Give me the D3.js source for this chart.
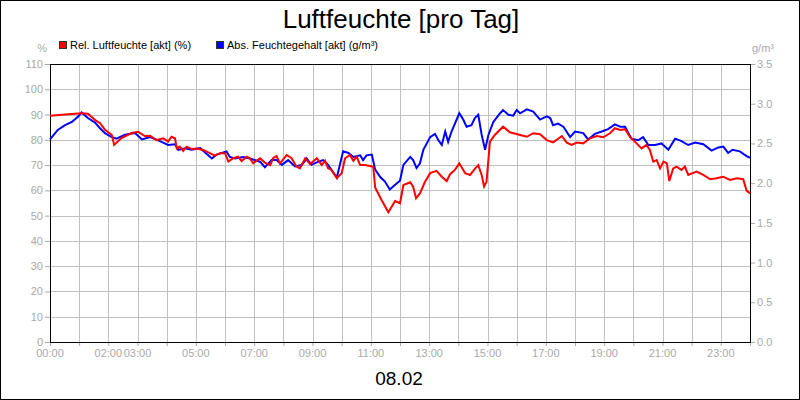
<!DOCTYPE html>
<html>
<head>
<meta charset="utf-8">
<script src="https://cdn.jsdelivr.net/npm/d3@7"></script>
<style>
  body { margin: 0; background: #fff; }
  svg { display: block; font-family: "Liberation Sans", Arial, sans-serif; }
</style>
</head>
<body>
<svg id="chart" width="800" height="400"></svg>
<script>
// minutes since midnight, rel. humidity in %
let relTimes = [0,31,65,78,93,103,113,127,132,147,168,181,195,
  206,219,233,243,250,257,261,267,274,281,291,302,315,329,339,350,360,367,377,387,394,405,411,418,432,
  442,453,459,466,473,487,497,507,514,525,535,549,559,566,572,579,590,600,607,617,624,631,638,648,658,665,
  669,682,696,710,720,727,741,747,753,761,771,782,795,806,816,823,833,842,854,864,874,881,888,893,898,
  905,915,932,946,967,981,994,1008,1022,1035,1053,1063,1073,1084,1097,1111,1125,1138,1152,1162,1173,
  1183,1193,1203,1217,1227,1234,1241,1248,1255,1262,1269,1274,1282,1289,1299,1306,1313,1330,1344,1358,
  1371,1385,1399,1413,1426,1433,1440];
let relValues = [89.5,90,90.5,90.3,87.8,86.6,84,82,78,80.7,82.7,83.2,81.5,
  81.6,79.9,80.6,79.3,81.2,80.6,76.6,77.3,75.6,77.3,76.4,76.6,76,74.7,73.7,74.7,74.7,71.4,72.7,73.3,71.6,73.3,72.7,70.7,72.7,
  71,70,72.7,73.6,70.7,74,72.7,69.4,68.7,72.7,70.4,72.7,70,71.7,68.7,68.1,64.8,66.8,72.7,74,71.7,73.3,70,70,69.6,69.3,
  61,56.2,51.3,55.8,54.9,62.1,63.2,61.5,56.9,58.8,63.2,66.8,67.7,65.4,63.7,66.4,68.1,70.7,66.8,66.1,68.5,70,66.1,61.5,63.4,
  79.3,81.9,85.2,83,81.9,81.2,82.6,82.2,79.9,79,81.5,78.9,78,78.9,78.6,80.6,81.5,81,82.6,84.6,83.9,
  84.2,81.2,79.3,76.6,78,76,71.4,72,68.7,71.4,70.7,63.7,68.7,69.4,68.1,69.4,66.1,67.4,66.1,64.4,
  64.8,65.4,64.1,64.8,64.4,59.9,58.8];

// minutes since midnight, abs. humidity in g/m³
let absTimes = [0,16,31,45,58,65,78,93,103,113,127,137,154,175,189,
  206,226,243,257,264,278,291,309,333,343,363,370,381,398,411,432,442,456,466,477,490,504,518,528,538,552,
  562,572,590,603,614,624,638,644,651,662,669,679,689,699,710,720,727,741,
  747,754,761,768,782,792,799,806,813,819,826,833,842,850,857,867,874,881,888,895,902,912,926,932,943,953,
  960,967,981,994,1008,1022,1029,1035,1045,1056,1070,1080,1097,1107,1121,1135,1148,1162,1173,1183,1196,
  1210,1220,1231,1245,1258,1272,1286,1299,1313,1327,1344,1361,1375,1385,1395,1404,1419,1433,1440];
let absValues = [2.55,2.67,2.73,2.77,2.84,2.89,2.82,2.76,2.69,2.63,2.58,2.56,2.61,2.63,2.55,
  2.58,2.53,2.48,2.49,2.42,2.44,2.42,2.44,2.31,2.36,2.40,2.33,2.31,2.33,2.31,2.27,2.20,2.29,2.29,2.23,2.29,2.21,2.23,2.31,2.23,2.27,
  2.29,2.23,2.07,2.40,2.38,2.33,2.35,2.29,2.35,2.36,2.17,2.08,2.02,1.92,1.98,2.03,2.23,2.33,
  2.29,2.19,2.25,2.42,2.58,2.62,2.54,2.48,2.65,2.52,2.65,2.75,2.88,2.80,2.71,2.73,2.82,2.86,2.61,2.42,2.61,2.77,2.88,2.92,2.86,2.85,
  2.92,2.88,2.93,2.90,2.80,2.84,2.82,2.73,2.75,2.71,2.58,2.65,2.63,2.55,2.62,2.65,2.68,2.74,2.71,2.71,2.56,
  2.54,2.58,2.48,2.48,2.50,2.42,2.56,2.53,2.48,2.51,2.49,2.41,2.45,2.46,2.38,2.42,2.40,2.34,2.32];

let leftTicks = [0,10,20,30,40,50,60,70,80,90,100,110];
let rightTicks = [0,0.5,1,1.5,2,2.5,3,3.5];
let hourTicks = d3.range(0, 25);
let hourLabels = ["00:00","02:00","03:00","05:00","07:00","09:00","11:00","13:00","15:00","17:00","19:00","21:00","23:00"];

let margin = {top: 64, right: 50, bottom: 58, left: 50};
let width = 800, height = 400;
let innerW = width - margin.left - margin.right;
let innerH = height - margin.top - margin.bottom;

let svg = d3.select("#chart");
let gray = "#a8a8a8";

svg.append("rect")
   .attr("x", 0.5).attr("y", 0.5)
   .attr("width", width - 1).attr("height", height - 1)
   .attr("fill", "#fff").attr("stroke", "#000");

let g = svg.append("g")
   .attr("transform", "translate(" + margin.left + "," + margin.top + ")");

let xScale = d3.scaleLinear().domain([0, 1440]).range([0, innerW]);
let yLeft = d3.scaleLinear().domain([0, 110]).range([innerH, 0]);
let yRight = d3.scaleLinear().domain([0, 3.5]).range([innerH, 0]);

// grid
g.selectAll(".vgrid")
 .data(hourTicks.slice(1, 24))
 .enter()
 .append("line")
 .attr("x1", d => Math.round(xScale(d * 60)) + 0.5)
 .attr("x2", d => Math.round(xScale(d * 60)) + 0.5)
 .attr("y1", 0).attr("y2", innerH)
 .attr("stroke", "#c0c0c0");

g.selectAll(".hgrid")
 .data(leftTicks.slice(1, -1))
 .enter()
 .append("line")
 .attr("y1", d => Math.round(yLeft(d)) + 0.5)
 .attr("y2", d => Math.round(yLeft(d)) + 0.5)
 .attr("x1", 0).attr("x2", innerW)
 .attr("stroke", "#c0c0c0");

// axes
let leftAxis = d3.axisLeft(yLeft).tickValues(leftTicks).tickSize(5).tickPadding(2);
let rightAxis = d3.axisRight(yRight).tickValues(rightTicks).tickSize(5).tickPadding(2)
   .tickFormat(d3.format(".1f"));
let bottomAxis = d3.axisBottom(xScale).tickValues(hourTicks.map(h => h * 60)).tickSize(4)
   .tickFormat(() => "");

function styleAxis(sel)
{
    sel.select(".domain").remove();
    sel.selectAll(".tick line").attr("stroke", gray);
    sel.selectAll(".tick text").attr("fill", gray).style("font-size", "11px");
}

g.append("g").call(leftAxis).call(styleAxis);
g.append("g").attr("transform", "translate(" + innerW + ",0)").call(rightAxis).call(styleAxis);
g.append("g").attr("transform", "translate(0," + innerH + ")").call(bottomAxis).call(styleAxis);

g.selectAll(".hourLabel")
 .data(hourLabels)
 .enter()
 .append("text")
 .attr("x", d => xScale(parseInt(d) * 60))
 .attr("y", innerH + 15)
 .attr("text-anchor", "middle")
 .attr("fill", gray)
 .style("font-size", "11px")
 .text(d => d);

// frame of plot area
g.append("rect")
 .attr("x", 0.5).attr("y", 0.5)
 .attr("width", innerW).attr("height", innerH)
 .attr("fill", "none").attr("stroke", "#000");

// lines
let absLine = d3.line()
   .x((d, i) => xScale(absTimes[i]))
   .y(d => yRight(d));
let relLine = d3.line()
   .x((d, i) => xScale(relTimes[i]))
   .y(d => yLeft(d));

g.append("path")
 .datum(absValues)
 .attr("d", absLine)
 .attr("fill", "none")
 .attr("stroke", "#0000ff")
 .attr("stroke-width", 2);

g.append("path")
 .datum(relValues)
 .attr("d", relLine)
 .attr("fill", "none")
 .attr("stroke", "#ff0000")
 .attr("stroke-width", 2);

// titles
svg.append("text")
   .attr("x", 401).attr("y", 28)
   .attr("text-anchor", "middle")
   .style("font-size", "26px")
   .text("Luftfeuchte [pro Tag]");

svg.append("text")
   .attr("x", 399).attr("y", 385)
   .attr("text-anchor", "middle")
   .style("font-size", "19px")
   .text("08.02");

svg.append("text")
   .attr("x", 47).attr("y", 52)
   .attr("text-anchor", "end")
   .attr("fill", gray)
   .style("font-size", "11px")
   .text("%");

svg.append("text")
   .attr("x", 752).attr("y", 52)
   .attr("fill", gray)
   .style("font-size", "11px")
   .text("g/m³");

// legend
let legendItems = [
    {label: "Rel. Luftfeuchte [akt] (%)", color: "#ff0000", x: 59},
    {label: "Abs. Feuchtegehalt [akt] (g/m³)", color: "#0000ff", x: 216}
];

let legend = svg.selectAll(".legend")
   .data(legendItems)
   .enter()
   .append("g")
   .attr("transform", d => "translate(" + d.x + ",41)");

legend.append("rect")
   .attr("x", 0.5).attr("y", 0.5)
   .attr("width", 7).attr("height", 7)
   .attr("fill", d => d.color)
   .attr("stroke", "#333");

legend.append("text")
   .attr("x", 11).attr("y", 8)
   .style("font-size", "11px")
   .text(d => d.label);
</script>
</body>
</html>
